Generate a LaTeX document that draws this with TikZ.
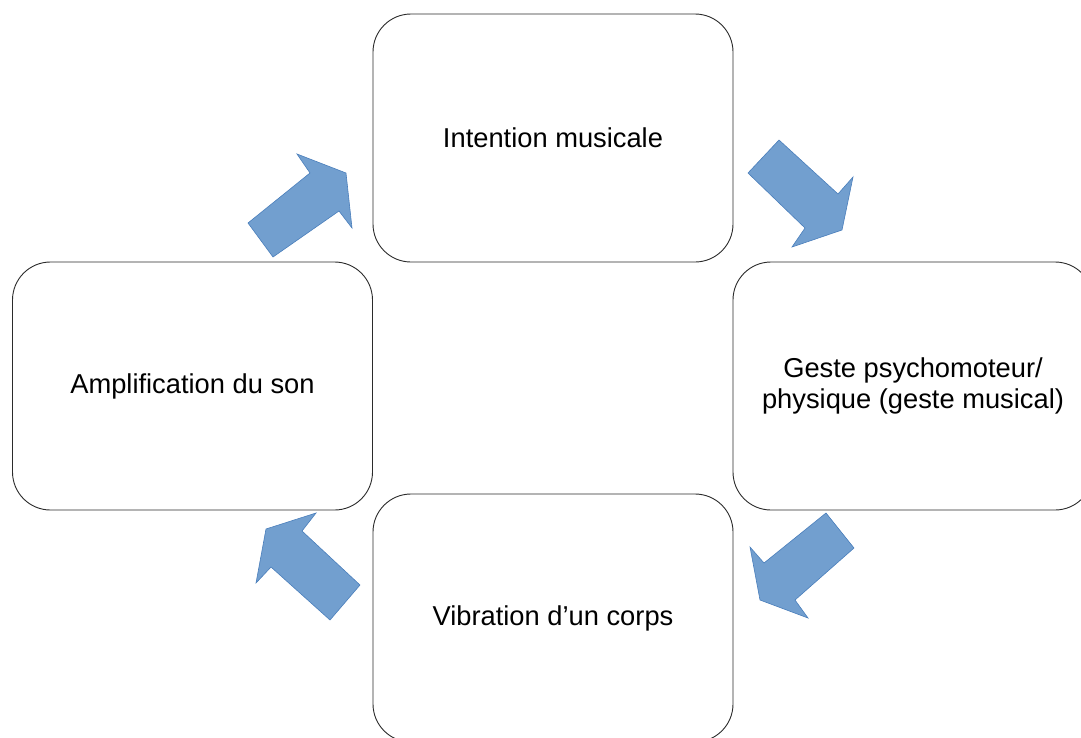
\documentclass[tikz,border=0pt]{standalone}
\usepackage{fontspec}
\setmainfont{Liberation Sans}
\definecolor{arrowfill}{HTML}{729FCF}
\definecolor{arrowline}{HTML}{4A7EBB}
\definecolor{boxline}{HTML}{2B2B2B}
\begin{document}
\begin{tikzpicture}[x=1pt,y=-1pt,
  box/.style={draw=boxline, line width=0.9pt, rounded corners=38pt, fill=white,
    minimum width=360pt, minimum height=248pt, inner sep=0pt,
    align=center, font=\fontsize{27.3pt}{31pt}\selectfont},
  blockarrow/.style={fill=arrowfill, draw=arrowline, line width=0.6pt, line join=miter}]
\useasboundingbox (0,0) rectangle (1081,737);
\begin{scope}
\clip (0,0) rectangle (1081,737);
\node[box] (top) at (553,138) {\raisebox{-2pt}{Intention musicale}};
\node[box] (right) at (913,386) {Geste psychomoteur/\\physique (geste musical)};
\node[box] (left) at (192.5,386) {\raisebox{-2pt}{Amplification du son}};
\node[box] (bottom) at (553,618) {\raisebox{-2pt}{Vibration d’un corps}};
% arrows
\draw[blockarrow] (779,140) -- (838,194) -- (853,177) -- (842,230) -- (792,247) -- (805,228) -- (748,173) -- cycle;
\draw[blockarrow] (826,513) -- (854,548) -- (795,600) -- (808,618) -- (760,600) -- (750,547) -- (764,563) -- cycle;
\draw[blockarrow] (360,585) -- (330,620) -- (271,567) -- (256,583) -- (266,529) -- (316,513) -- (302,531) -- cycle;
\draw[blockarrow] (273,257) -- (248,223) -- (310,173) -- (297,154) -- (346,173) -- (352,228) -- (339,211) -- cycle;
\end{scope}
\end{tikzpicture}
\end{document}
